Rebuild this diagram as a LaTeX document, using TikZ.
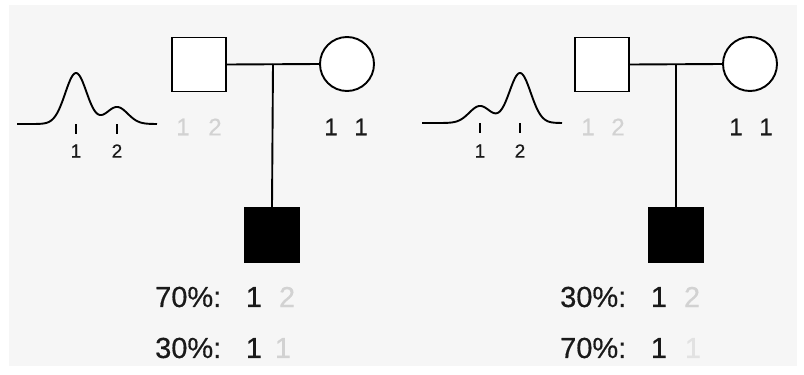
\documentclass[tikz,border=0pt]{standalone}
\usepackage{fontspec}
\setmainfont{Liberation Sans}[FakeBold=0.5]
\definecolor{bgpanel}{HTML}{F6F6F6}
\definecolor{faint}{HTML}{D2D2D2}
\definecolor{veryfaint}{HTML}{E2E2E2}
\definecolor{ink}{HTML}{1A1A1A}
\tikzset{
  ln/.style={line width=1.9pt, black},
  male/.style={draw, line width=1.9pt, minimum size=54pt, inner sep=0pt, fill=white},
  female/.style={draw, circle, line width=1.9pt, minimum size=54pt, inner sep=0pt, fill=white},
  affected/.style={draw, line width=1.9pt, minimum size=54pt, inner sep=0pt, fill=black},
  small/.style={font=\fontsize{24pt}{26pt}\selectfont, inner sep=0pt, text=ink},
  tiny/.style={font=\fontsize{19pt}{21pt}\selectfont, inner sep=0pt, text=ink},
  big/.style={font=\fontsize{29pt}{31pt}\selectfont, inner sep=0pt, text=ink},
  curve/.style={line width=1.9pt, black, line join=round},
  tick/.style={line width=1.7pt, black}
}
\begin{document}
\begin{tikzpicture}[x=1pt,y=-1pt]
\useasboundingbox (0,0) rectangle (804,375);
\fill[white] (0,0) rectangle (804,375);
\fill[bgpanel] (9,5) rectangle (797,366);

% ---------- left panel ----------
\draw[curve] plot[domain=17:157, samples=120] (\x, {124 - 51*exp(-((\x-76)^2)/230) - 17*exp(-((\x-117)^2)/230)});
\coordinate (lt1a) at (76,124); \coordinate (lt1b) at (76,134);
\coordinate (lt2a) at (117,124); \coordinate (lt2b) at (117,134);
\draw[tick] (lt1a) -- (lt1b);
\draw[tick] (lt2a) -- (lt2b);
\node[tiny] (lc1) at (76,151) {1};
\node[tiny] (lc2) at (117,151) {2};

\node[male] (lf) at (199,64.5) {};
\node[female] (lm) at (347,64) {};
\coordinate (lj) at (273,64);
\node[affected] (lk) at (272,235) {};
\draw[ln] (lf.east) -- (lm.west);
\draw[ln] (lj) -- (lk.north);

\node[small, text=faint] (lfa) at (183,127) {1};
\node[small, text=faint] (lfb) at (215,127) {2};
\node[small] (lma) at (331,127) {1};
\node[small] (lmb) at (361,127) {1};

\node[big, anchor=west] (lp1) at (155,297) {70\%:};
\node[big] (lp1a) at (254,297) {1};
\node[big, text=faint] (lp1b) at (287,297) {2};
\node[big, anchor=west] (lp2) at (155,348) {30\%:};
\node[big] (lp2a) at (254,348) {1};
\node[big, text=faint] (lp2b) at (283,348) {1};

% ---------- right panel ----------
\draw[curve] plot[domain=422:562, samples=120] (\x, {123 - 17*exp(-((\x-480)^2)/230) - 50*exp(-((\x-520)^2)/230)});
\coordinate (rt1a) at (480,123); \coordinate (rt1b) at (480,133);
\coordinate (rt2a) at (520,123); \coordinate (rt2b) at (520,133);
\draw[tick] (rt1a) -- (rt1b);
\draw[tick] (rt2a) -- (rt2b);
\node[tiny] (rc1) at (480,151) {1};
\node[tiny] (rc2) at (520,151) {2};

\node[male] (rf) at (602,64.5) {};
\node[female] (rm) at (750,64) {};
\coordinate (rj) at (676,64);
\node[affected] (rk) at (676,235) {};
\draw[ln] (rf.east) -- (rm.west);
\draw[ln] (rj) -- (rk.north);

\node[small, text=faint] (rfa) at (588,127) {1};
\node[small, text=faint] (rfb) at (618,127) {2};
\node[small] (rma) at (736,127) {1};
\node[small] (rmb) at (766,127) {1};

\node[big, anchor=west] (rp1) at (560,297) {30\%:};
\node[big] (rp1a) at (659,297) {1};
\node[big, text=faint] (rp1b) at (692,297) {2};
\node[big, anchor=west] (rp2) at (560,348) {70\%:};
\node[big] (rp2a) at (659,348) {1};
\node[big, text=veryfaint] (rp2b) at (693,348) {1};
\end{tikzpicture}
\end{document}
